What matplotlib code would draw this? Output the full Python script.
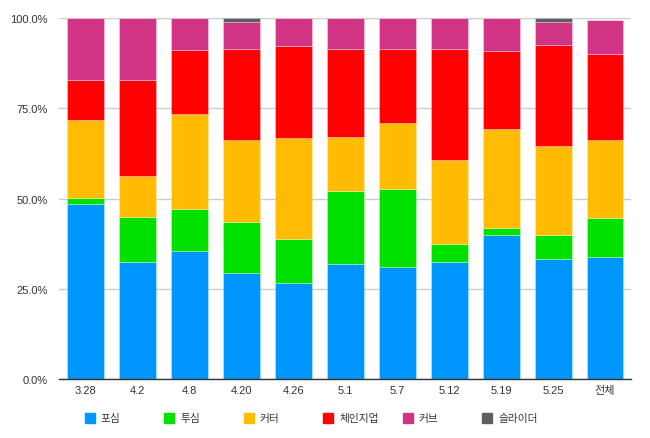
import matplotlib
matplotlib.use('Agg')
import matplotlib.pyplot as plt
from matplotlib.patches import Rectangle
import numpy as np

plt.rcParams['font.family'] = ['Liberation Sans', 'Noto Sans CJK KR', 'DejaVu Sans']

# Pitch mix per game (percent of pitches)
games = ['3.28', '4.2', '4.8', '4.20', '4.26', '5.1', '5.7', '5.12', '5.19', '5.25', '전체']
pitch_names = ['포심', '투심', '커터', '체인지업', '커브', '슬라이더']

fourseam = [48.6, 32.3, 35.4, 29.5, 26.6, 31.8, 31.1, 32.3, 39.9, 33.3, 33.7]
twoseam = [1.5, 12.6, 11.6, 13.9, 12.3, 20.4, 21.6, 5.2, 2.1, 6.6, 10.9]
cutter = [21.8, 11.4, 26.6, 22.9, 27.8, 15.0, 18.3, 23.2, 27.3, 24.7, 21.7]
changeup = [11.0, 26.6, 17.6, 25.1, 25.6, 24.4, 20.4, 30.7, 21.6, 28.0, 23.7]
curve = [17.1, 17.1, 8.8, 7.6, 7.7, 8.4, 8.6, 8.6, 9.1, 6.4, 9.6]
slider = [0, 0, 0, 1.0, 0, 0, 0, 0, 0, 1.0, 0]

series = [fourseam, twoseam, cutter, changeup, curve, slider]
colors = ['#0096FF', '#00E100', '#FFBC00', '#FF0000', '#D13385', '#5E5E5E']

fig = plt.figure(figsize=(6.5, 4.39), dpi=100)
ax = fig.add_axes([0.0912, 0.1344, 0.8796, 0.8216])

x = np.arange(len(games))
bottom = np.zeros(len(games))
for vals, col in zip(series, colors):
    vals = np.array(vals)
    ax.bar(x, vals, bottom=bottom, width=0.71, color=col,
           edgecolor=(1, 1, 1, 0.35), linewidth=0.6, zorder=3)
    bottom += vals

ax.set_xlim(-0.5, len(games) - 0.5)
ax.set_ylim(0, 100)
ax.set_yticks([0, 25, 50, 75, 100])
ax.set_yticklabels(['0.0%', '25.0%', '50.0%', '75.0%', '100.0%'])
ax.set_xticks(x)
ax.set_xticklabels(games)
ax.tick_params(axis='y', length=0, pad=8.5, labelsize=8, labelcolor='#333333')
ax.tick_params(axis='x', length=0, pad=4, labelsize=8, labelcolor='#333333')
ax.yaxis.grid(True, color='#CCCCCC', linewidth=1.0, zorder=0)
ax.set_axisbelow(True)
for s in ['top', 'right', 'left']:
    ax.spines[s].set_visible(False)
ax.spines['bottom'].set_color('#333333')
ax.spines['bottom'].set_linewidth(1.0)
ax.spines['bottom'].set_zorder(4)

# legend laid out on an even grid, like the original
for i, (name, col) in enumerate(zip(pitch_names, colors)):
    lx = (84.7 + i * 79.5) / 650
    fig.add_artist(Rectangle((lx, (439 - 424) / 439), 10 / 650, 10 / 439,
                             transform=fig.transFigure, color=col))
    fig.text(lx + 16 / 650, (439 - 419) / 439, name, fontsize=7.7,
             color='#333333', va='center', ha='left')

fig.savefig('out.png', dpi=100)
